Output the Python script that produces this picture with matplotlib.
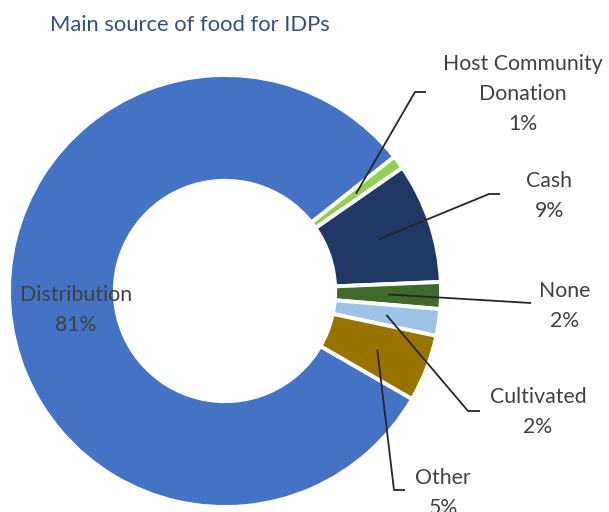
import numpy as np
import matplotlib
matplotlib.use("Agg")
import matplotlib.pyplot as plt

# Main food source shares (%)
categories = ["Distribution", "Host Community\nDonation", "Cash", "None", "Cultivated", "Other"]
values = [81, 1, 9, 2, 2, 5]
colors = ["#4472C4", "#92D050", "#1F3864", "#3E6A2C", "#9DC3E6", "#997300"]

# label block centres (pixel layout, y measured from top)
label_pos = [(76, 310), (523, 94), (549, 196), (565, 306), (538, 412), (443, 493)]
# elbow / end of leader lines for the outer labels (None has a straight leader)
leader_paths = {
    1: [(415, 92), (426, 92)],
    2: [(489, 194), (500, 194)],
    3: [(531, 303)],
    4: [(468, 411), (480, 411)],
    5: [(394, 490), (405, 490)],
}

W, H = 609, 512
fig = plt.figure(figsize=(W / 100, H / 100), dpi=100)
ax = fig.add_axes([0, 0, 1, 1])

cx, cy, R = 225, H - 291, 216
hole = 0.51
start = -30

wedges, _ = ax.pie(values, colors=colors, startangle=start, counterclock=False,
                   radius=R, center=(cx, cy), frame=True,
                   wedgeprops=dict(width=R * (1 - hole), edgecolor="white", linewidth=2.8))
ax.set_xlim(0, W)
ax.set_ylim(0, H)
ax.set_aspect("equal")
ax.axis("off")

font = "Lato"
txt_color = "#404040"
pct = [f"{v}%" for v in values]

for i, w in enumerate(wedges):
    lx, ly = label_pos[i]
    ax.text(lx, H - ly, f"{categories[i]}\n{pct[i]}", ha="center", va="center",
            fontsize=15.3, color=txt_color, family=font, linespacing=1.6)
    if i in leader_paths:
        mid = np.deg2rad((w.theta1 + w.theta2) / 2)
        rr = R * (1 + hole) / 2
        ax_pt = (cx + rr * np.cos(mid), cy + rr * np.sin(mid))
        pts = [ax_pt] + [(x, H - y) for x, y in leader_paths[i]]
        xs, ys = zip(*pts)
        ax.plot(xs, ys, color="#262626", lw=1.3, solid_capstyle="butt")

fig.text(190 / W, 1 - 25 / H, "Main source of food for IDPs", ha="center", va="center",
         fontsize=15.8, color="#34507F", family=font)

fig.savefig("out.png", dpi=100)
